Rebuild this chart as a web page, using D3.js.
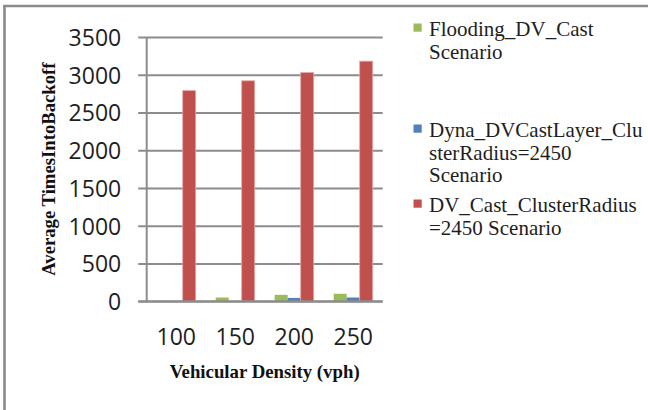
<!DOCTYPE html>
<html>
<head>
<meta charset="utf-8">
<script src="https://cdn.jsdelivr.net/npm/d3@7"></script>
<style>
  html, body { margin: 0; padding: 0; background: #fff; }
  svg { display: block; }
</style>
</head>
<body>
<svg id="chart" width="648" height="410"></svg>
<script>
// Vehicular density categories (vph)
const categories = ["100", "150", "200", "250"];
// Series names as shown in the legend
const seriesNames = [
  "Flooding_DV_Cast Scenario",
  "Dyna_DVCastLayer_ClusterRadius=2450 Scenario",
  "DV_Cast_ClusterRadius=2450 Scenario"
];
// Average times into backoff per series
const floodingValues = [0, 50, 85, 100];
const dynaValues = [0, 0, 45, 50];
const dvCastValues = [2790, 2920, 3030, 3180];
// Y axis ticks
const yTicks = [0, 500, 1000, 1500, 2000, 2500, 3000, 3500];
// Legend text, wrapped as lines
const legendLines = [
  ["Flooding_DV_Cast", "Scenario"],
  ["Dyna_DVCastLayer_Clu", "sterRadius=2450", "Scenario"],
  ["DV_Cast_ClusterRadius", "=2450 Scenario"]
];
const colors = ["#9BBB59", "#4F81BD", "#C0504D"];

const seriesValues = [floodingValues, dynaValues, dvCastValues];

const svg = d3.select("#chart");
const plot = { left: 146.7, right: 382.7, top: 37, bottom: 301.3 };

// Outer frame: left and top edges
svg.append("line").attr("x1", 4.5).attr("x2", 4.5).attr("y1", 6).attr("y2", 410)
  .attr("stroke", "#8a8a8a").attr("stroke-width", 2.6);
svg.append("line").attr("x1", 3.2).attr("x2", 648).attr("y1", 6).attr("y2", 6)
  .attr("stroke", "#8a8a8a").attr("stroke-width", 2.4);

const y = d3.scaleLinear().domain([0, 3500]).range([plot.bottom, plot.top]);
const x0 = d3.scaleBand().domain(categories).range([plot.left, plot.right]).padding(0);
const x1 = d3.scaleBand().domain(d3.range(seriesNames.length))
  .range([0, x0.bandwidth()]).paddingInner(0).paddingOuter(0.77);

// Gridlines with tick stubs to the left of the axis
const yAxis = d3.axisLeft(y).tickValues(yTicks)
  .tickSize(-(plot.right - plot.left)).tickSizeOuter(0).tickPadding(17)
  .tickFormat(d3.format("d"));
const gy = svg.append("g").attr("transform", `translate(${plot.left},0)`).call(yAxis);
gy.select(".domain").remove();
gy.selectAll(".tick line")
  .attr("x1", -8.5)
  .attr("stroke", "#8c8c8c").attr("stroke-width", 2);
gy.selectAll(".tick text")
  .attr("font-family", "'Open Sans', sans-serif").attr("font-size", 23)
  .attr("fill", "#1e1e1e").attr("dy", "0.36em").attr("x", -25.5);

// Vertical axis line
svg.append("line").attr("x1", plot.left).attr("x2", plot.left)
  .attr("y1", plot.top).attr("y2", plot.bottom + 1)
  .attr("stroke", "#8c8c8c").attr("stroke-width", 2);

// Bars
const groups = svg.append("g").selectAll("g").data(categories).join("g")
  .attr("transform", d => `translate(${x0(d)},0)`);
groups.selectAll("rect")
  .data((c, i) => seriesValues.map((vals, s) => ({ s, v: vals[i] })))
  .join("rect")
  .attr("x", d => x1(d.s))
  .attr("width", x1.bandwidth())
  .attr("y", d => y(d.v))
  .attr("height", d => y(0) - y(d.v))
  .attr("fill", d => colors[d.s])
  .attr("stroke", d => d.s === 2 ? "#e3a9a7" : "none")
  .attr("stroke-width", 0.8);

// Redraw zero line above bars
svg.append("line").attr("x1", plot.left - 8.5).attr("x2", plot.right)
  .attr("y1", y(0)).attr("y2", y(0))
  .attr("stroke", "#8c8c8c").attr("stroke-width", 2);

// X axis category labels
const xAxis = d3.axisBottom(x0).tickSize(0).tickPadding(0);
const gx = svg.append("g").attr("transform", `translate(0,${plot.bottom})`).call(xAxis);
gx.select(".domain").remove();
gx.selectAll(".tick text")
  .attr("font-family", "'Open Sans', sans-serif").attr("font-size", 23)
  .attr("fill", "#1e1e1e").attr("dy", 0).attr("y", 44);

// Axis titles
svg.append("text")
  .attr("x", (plot.left + plot.right) / 2).attr("y", 378)
  .attr("text-anchor", "middle")
  .attr("font-family", "'Liberation Serif', 'Times New Roman', serif")
  .attr("font-weight", "bold").attr("font-size", 18.8).attr("fill", "#111")
  .text("Vehicular Density (vph)");
svg.append("text")
  .attr("transform", `translate(55,${(plot.top + plot.bottom) / 2}) rotate(-90)`)
  .attr("text-anchor", "middle")
  .attr("font-family", "'Liberation Serif', 'Times New Roman', serif")
  .attr("font-weight", "bold").attr("font-size", 18.7).attr("fill", "#111")
  .text("Average TimesIntoBackoff");

// Legend
const legendTop = [36, 137, 212];
const legend = svg.append("g");
legendLines.forEach((lines, i) => {
  const g = legend.append("g").attr("transform", `translate(413.5,${legendTop[i]})`);
  g.append("rect").attr("x", 0).attr("y", -12.5).attr("width", 8.2).attr("height", 8.2)
    .attr("fill", colors[i]);
  const t = g.append("text")
    .attr("font-family", "'Liberation Serif', 'Times New Roman', serif")
    .attr("font-size", 21).attr("fill", "#1e1e1e");
  lines.forEach((ln, j) => {
    t.append("tspan").attr("x", 15.5).attr("y", j * 22.6).text(ln);
  });
});
</script>
</body>
</html>
